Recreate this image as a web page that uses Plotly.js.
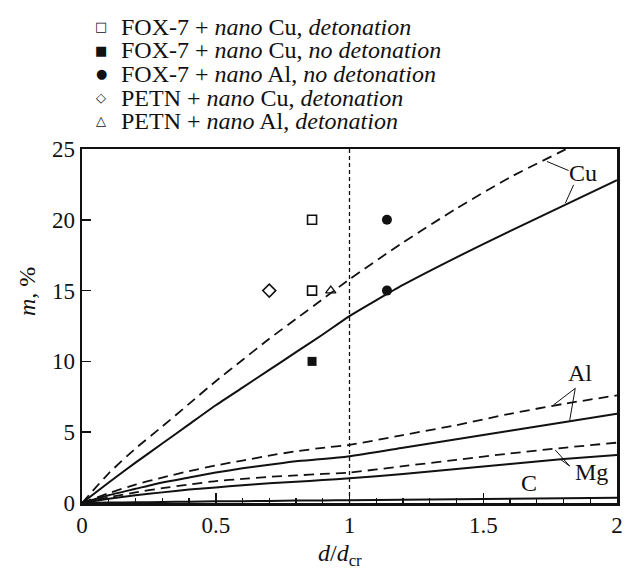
<!DOCTYPE html>
<html>
<head>
<meta charset="utf-8">
<script src="https://cdn.plot.ly/plotly-3.0.1.min.js"></script>
<style>html,body{margin:0;padding:0;background:#fff;}#chart{width:626px;height:579px;}</style>
</head>
<body>
<div id="chart"></div>
<script>
// Curve abscissa d/d_cr
const curveX = [0, 0.1, 0.2, 0.3, 0.4, 0.5, 0.6, 0.7, 0.8, 0.9, 1.0, 1.2, 1.4, 1.6, 1.8, 2.0];
// Critical mass fraction curves m, %
const cuDashed = [0, 2.1, 3.85, 5.4, 7.0, 8.6, 10.1, 11.6, 13.0, 14.4, 15.8, 18.4, 20.8, 23.0, 24.9, 26.8];
const cuSolid  = [0, 1.45, 2.85, 4.2, 5.55, 6.9, 8.15, 9.4, 10.65, 11.9, 13.2, 15.4, 17.35, 19.2, 21.0, 22.8];
const alDashed = [0, 0.7, 1.3, 1.8, 2.25, 2.65, 3.0, 3.35, 3.65, 3.9, 4.1, 4.8, 5.5, 6.3, 7.0, 7.6];
const alSolid  = [0, 0.55, 1.0, 1.45, 1.8, 2.15, 2.45, 2.7, 2.95, 3.1, 3.3, 3.9, 4.5, 5.1, 5.7, 6.3];
const mgDashed = [0, 0.4, 0.75, 1.05, 1.3, 1.55, 1.7, 1.85, 1.95, 2.05, 2.15, 2.6, 3.05, 3.5, 3.9, 4.26];
const mgSolid  = [0, 0.3, 0.55, 0.75, 0.95, 1.1, 1.25, 1.4, 1.5, 1.62, 1.74, 2.05, 2.4, 2.75, 3.1, 3.39];
const cSolid   = [0, 0.03, 0.05, 0.07, 0.09, 0.12, 0.13, 0.15, 0.17, 0.18, 0.2, 0.23, 0.26, 0.3, 0.33, 0.37];

// Experimental points
const foxCuDetX = [0.86, 0.86], foxCuDetY = [20, 15];
const foxCuNoDetX = [0.86], foxCuNoDetY = [10];
const foxAlNoDetX = [1.14, 1.14], foxAlNoDetY = [20, 15];
const petnCuDetX = [0.7], petnCuDetY = [15];
const petnAlDetX = [0.93], petnAlDetY = [15];

const legendSymbols = ['\u25A1', '\u25A0', '\u25CF', '\u25C7', '\u25B3'];
const legendLabels = [
  'FOX-7 + <i>nano</i> Cu, <i>detonation</i>',
  'FOX-7 + <i>nano</i> Cu, <i>no detonation</i>',
  'FOX-7 + <i>nano</i> Al, <i>no detonation</i>',
  'PETN + <i>nano</i> Cu, <i>detonation</i>',
  'PETN + <i>nano</i> Al, <i>detonation</i>'
];

const FONT = '"Liberation Serif", "Times New Roman", serif';
const dashed = {color: '#111', width: 1.8, dash: '10px,6px', shape: 'spline', smoothing: 0.5};
const solid = {color: '#111', width: 2, shape: 'spline', smoothing: 0.5};

const traces = [
  {x: curveX, y: cuDashed, mode: 'lines', line: dashed, name: 'Cu (dashed)'},
  {x: curveX, y: cuSolid, mode: 'lines', line: solid, name: 'Cu'},
  {x: curveX, y: alDashed, mode: 'lines', line: dashed, name: 'Al (dashed)'},
  {x: curveX, y: alSolid, mode: 'lines', line: solid, name: 'Al'},
  {x: curveX, y: mgDashed, mode: 'lines', line: dashed, name: 'Mg (dashed)'},
  {x: curveX, y: mgSolid, mode: 'lines', line: solid, name: 'Mg'},
  {x: curveX, y: cSolid, mode: 'lines', line: solid, name: 'C'},
  {x: foxCuDetX, y: foxCuDetY, mode: 'markers', name: legendLabels[0],
   marker: {symbol: 'square-open', size: 9, color: '#111', line: {width: 1.6}}},
  {x: foxCuNoDetX, y: foxCuNoDetY, mode: 'markers', name: legendLabels[1],
   marker: {symbol: 'square', size: 9, color: '#111'}},
  {x: foxAlNoDetX, y: foxAlNoDetY, mode: 'markers', name: legendLabels[2],
   marker: {symbol: 'circle', size: 10, color: '#111'}},
  {x: petnCuDetX, y: petnCuDetY, mode: 'markers', name: legendLabels[3],
   marker: {symbol: 'diamond-open', size: 10, color: '#111', line: {width: 1.5}}},
  {x: petnAlDetX, y: petnAlDetY, mode: 'markers', name: legendLabels[4],
   marker: {symbol: 'triangle-up-open', size: 9, color: '#111', line: {width: 1.3}}}
];

// Plot area in px: x 82..617, y 149..503
const legendRowsPx = [26.5, 50, 73.5, 97.5, 120.5];
const annotations = [];
legendRowsPx.forEach((py, i) => {
  const yp = (503 - py) / 354;
  annotations.push({xref: 'paper', yref: 'paper', x: (101 - 82) / 535, y: yp,
    text: legendSymbols[i], showarrow: false, xanchor: 'center', yanchor: 'middle',
    font: {family: 'DejaVu Sans', size: 13, color: '#111'}});
  annotations.push({xref: 'paper', yref: 'paper', x: (119 - 82) / 535, y: yp,
    text: legendLabels[i], showarrow: false, xanchor: 'left', yanchor: 'middle',
    font: {family: FONT, size: 24, color: '#111'}});
});
// curve labels
[['Cu', 1.874, 23.3], ['Al', 1.863, 9.2], ['Mg', 1.905, 2.2], ['C', 1.67, 1.4]].forEach(a => {
  annotations.push({x: a[1], y: a[2], text: a[0], showarrow: false,
    xanchor: 'center', yanchor: 'middle', font: {family: FONT, size: 24, color: '#111'}});
});
// axis titles
annotations.push({xref: 'paper', yref: 'paper', x: (27 - 82) / 535, y: (503 - 292) / 354,
  text: '<i>m</i>, %', showarrow: false, textangle: -90, xanchor: 'center', yanchor: 'middle',
  font: {family: FONT, size: 24, color: '#111'}});
annotations.push({xref: 'paper', yref: 'paper', x: (340 - 82) / 535, y: (503 - 555) / 354,
  text: '<i>d</i>/<i>d</i><sub>cr</sub>', showarrow: false, xanchor: 'center', yanchor: 'middle',
  font: {family: FONT, size: 24, color: '#111'}});

const leader = {color: '#111', width: 1};
const shapes = [
  {type: 'line', x0: 1, x1: 1, y0: 0, y1: 25, line: {color: '#111', width: 1.3, dash: '4px,3px'}},
  {type: 'line', x0: 1.738, y0: 24.12, x1: 1.819, y1: 23.48, line: leader},
  {type: 'line', x0: 1.807, y0: 21.18, x1: 1.838, y1: 22.47, line: leader},
  {type: 'line', x0: 1.844, y0: 8.1, x1: 1.763, y1: 6.93, line: leader},
  {type: 'line', x0: 1.844, y0: 8.1, x1: 1.823, y1: 5.82, line: leader},
  {type: 'line', x0: 1.823, y0: 2.61, x1: 1.769, y1: 3.75, line: leader},
  {type: 'line', x0: 1.823, y0: 2.61, x1: 1.788, y1: 3.09, line: leader}
];

const layout = {
  width: 626, height: 579,
  margin: {l: 82, r: 9, t: 149, b: 76},
  paper_bgcolor: '#fff', plot_bgcolor: '#fff',
  showlegend: false,
  font: {family: FONT, size: 23, color: '#111'},
  xaxis: {range: [0, 2], tickvals: [0, 0.5, 1, 1.5, 2], ticktext: ['0', '0.5', '1', '1.5', '2'],
    ticks: 'inside', ticklen: 10, tickwidth: 1.5, tickcolor: '#111',
    minor: {dtick: 0.1, ticks: 'inside', ticklen: 5, tickwidth: 1.2, tickcolor: '#111'},
    showgrid: false, zeroline: false, showline: true, linecolor: '#111', linewidth: 2.5, mirror: true,
    tickfont: {family: FONT, size: 23, color: '#111'}},
  yaxis: {range: [0, 25], tickvals: [0, 5, 10, 15, 20, 25],
    ticks: 'inside', ticklen: 9, tickwidth: 1.5, tickcolor: '#111',
    showgrid: false, zeroline: false, showline: true, linecolor: '#111', linewidth: 2.5, mirror: true,
    tickfont: {family: FONT, size: 23, color: '#111'}},
  annotations: annotations,
  shapes: shapes
};

Plotly.newPlot('chart', traces, layout, {staticPlot: true, displayModeBar: false});
</script>
</body>
</html>
